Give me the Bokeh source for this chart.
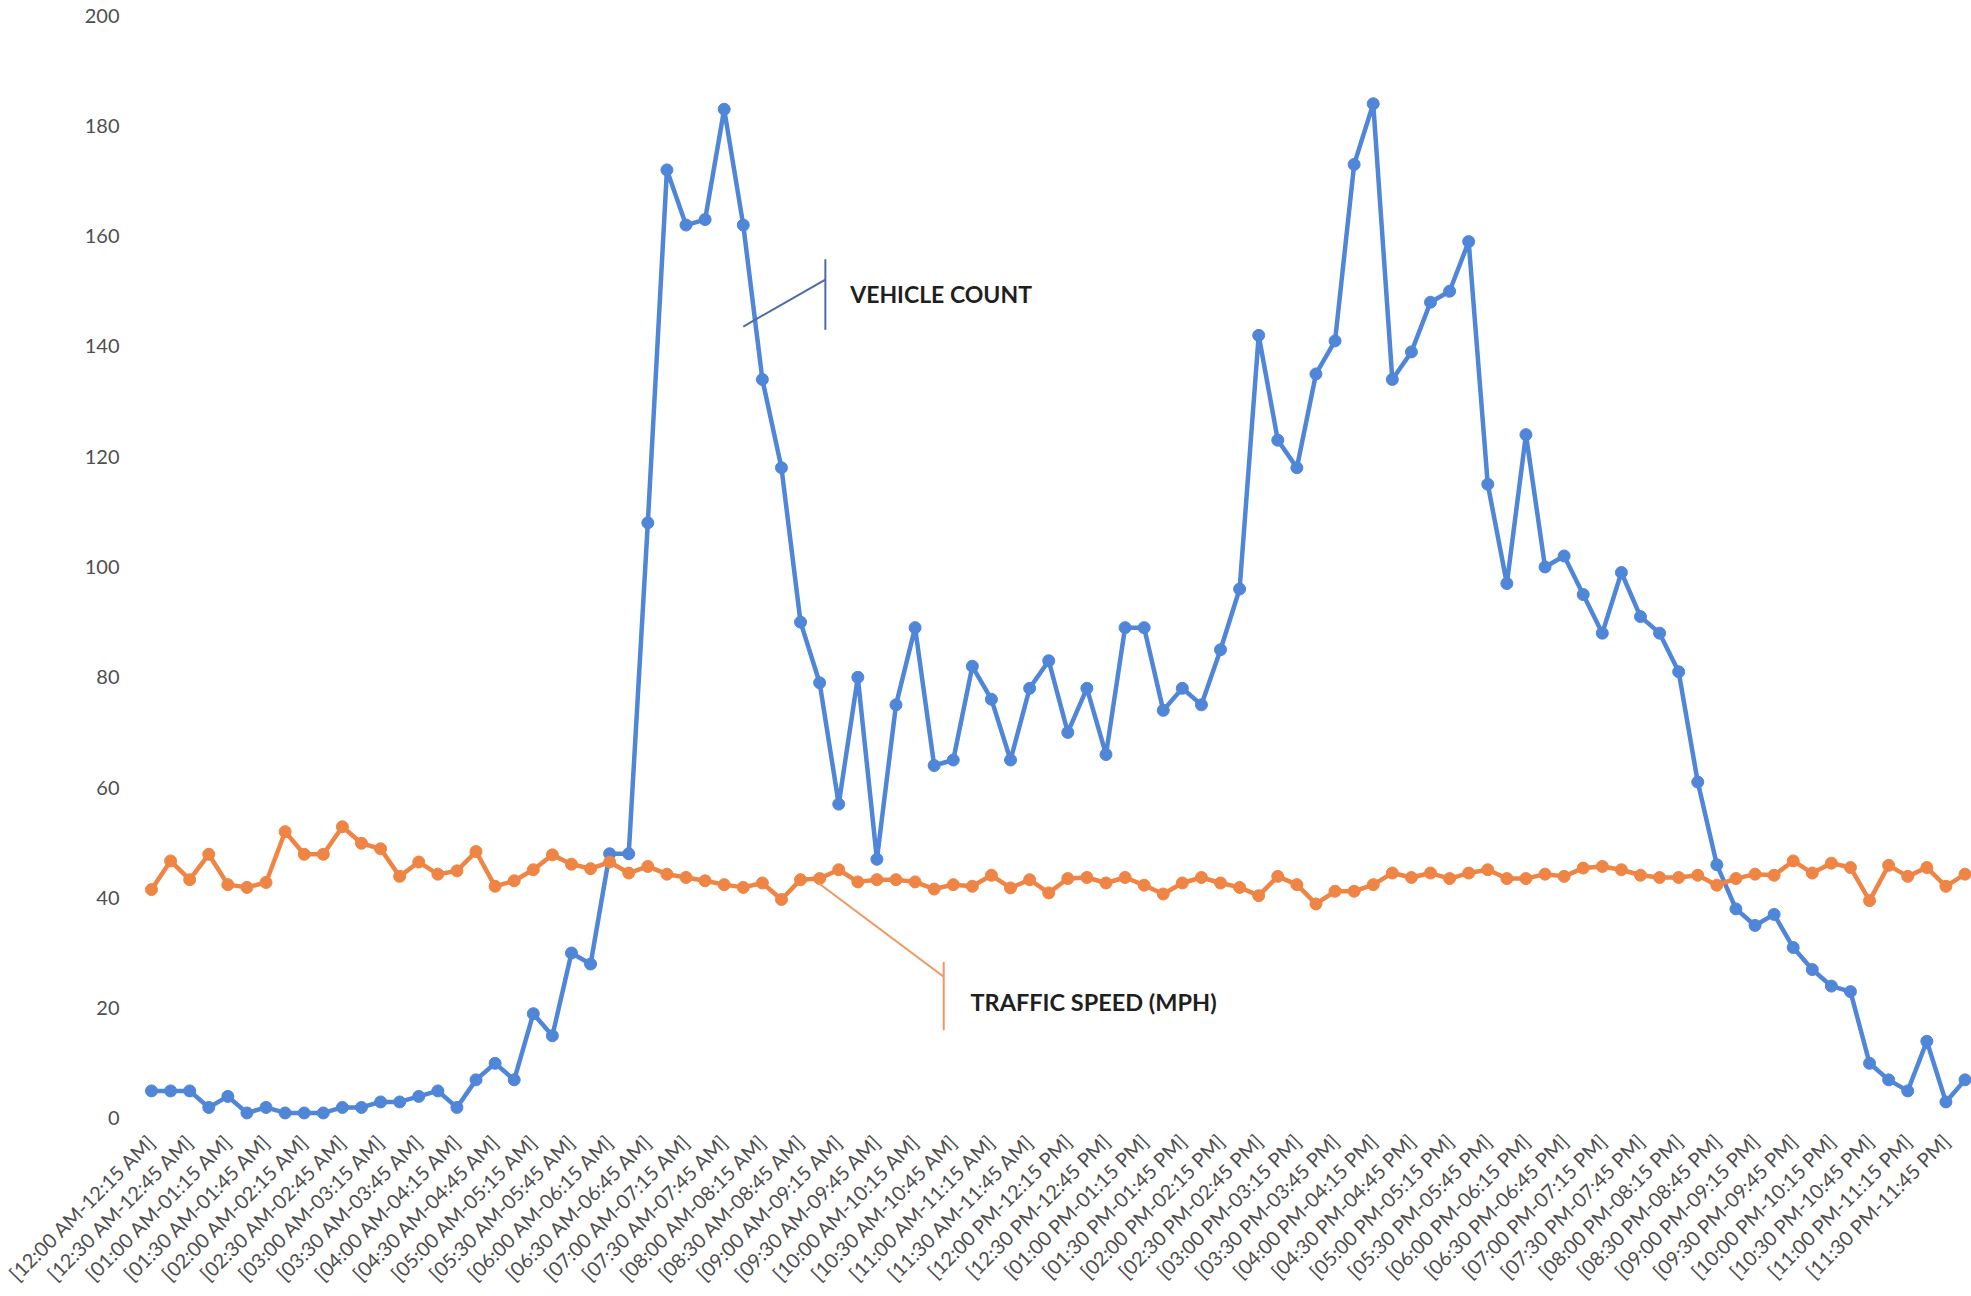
import math
from bokeh.plotting import figure
from bokeh.models import Range1d, FixedTicker, Label
from bokeh.embed import file_html
from bokeh.resources import INLINE

# ---- data ----
vehicle_count = [5, 5, 5, 2, 4, 1, 2, 1, 1, 1,
                 2, 2, 3, 3, 4, 5, 2, 7, 10, 7,
                 19, 15, 30, 28, 48, 48, 108, 172, 162, 163,
                 183, 162, 134, 118, 90, 79, 57, 80, 47, 75,
                 89, 64, 65, 82, 76, 65, 78, 83, 70, 78,
                 66, 89, 89, 74, 78, 75, 85, 96, 142, 123,
                 118, 135, 141, 173, 184, 134, 139, 148, 150, 159,
                 115, 97, 124, 100, 102, 95, 88, 99, 91, 88,
                 81, 61, 46, 38, 35, 37, 31, 27, 24, 23,
                 10, 7, 5, 14, 3, 7]

traffic_speed = [41.5, 46.7, 43.3, 47.9, 42.4, 41.9, 42.8, 52.0, 47.9, 47.9,
                 52.9, 49.9, 48.9, 43.9, 46.5, 44.3, 44.9, 48.4, 42.1, 43.1,
                 45.1, 47.8, 46.1, 45.3, 46.5, 44.5, 45.7, 44.3, 43.7, 43.1,
                 42.4, 41.9, 42.7, 39.7, 43.3, 43.5, 45.1, 42.9, 43.3, 43.3,
                 42.9, 41.6, 42.4, 42.1, 44.1, 41.8, 43.3, 40.9, 43.5, 43.7,
                 42.7, 43.7, 42.3, 40.7, 42.7, 43.7, 42.7, 41.9, 40.4, 43.9,
                 42.4, 38.9, 41.2, 41.2, 42.4, 44.5, 43.7, 44.5, 43.5, 44.5,
                 45.1, 43.5, 43.5, 44.3, 43.9, 45.4, 45.7, 45.1, 44.1, 43.7,
                 43.7, 44.1, 42.3, 43.5, 44.3, 44.1, 46.7, 44.5, 46.3, 45.5,
                 39.5, 45.9, 43.9, 45.5, 42.1, 44.3]

interval_index = list(range(len(vehicle_count)))

tick_labels = [
    "[12:00 AM-12:15 AM]", "[12:30 AM-12:45 AM]", "[01:00 AM-01:15 AM]", "[01:30 AM-01:45 AM]",
    "[02:00 AM-02:15 AM]", "[02:30 AM-02:45 AM]", "[03:00 AM-03:15 AM]", "[03:30 AM-03:45 AM]",
    "[04:00 AM-04:15 AM]", "[04:30 AM-04:45 AM]", "[05:00 AM-05:15 AM]", "[05:30 AM-05:45 AM]",
    "[06:00 AM-06:15 AM]", "[06:30 AM-06:45 AM]", "[07:00 AM-07:15 AM]", "[07:30 AM-07:45 AM]",
    "[08:00 AM-08:15 AM]", "[08:30 AM-08:45 AM]", "[09:00 AM-09:15 AM]", "[09:30 AM-09:45 AM]",
    "[10:00 AM-10:15 AM]", "[10:30 AM-10:45 AM]", "[11:00 AM-11:15 AM]", "[11:30 AM-11:45 AM]",
    "[12:00 PM-12:15 PM]", "[12:30 PM-12:45 PM]", "[01:00 PM-01:15 PM]", "[01:30 PM-01:45 PM]",
    "[02:00 PM-02:15 PM]", "[02:30 PM-02:45 PM]", "[03:00 PM-03:15 PM]", "[03:30 PM-03:45 PM]",
    "[04:00 PM-04:15 PM]", "[04:30 PM-04:45 PM]", "[05:00 PM-05:15 PM]", "[05:30 PM-05:45 PM]",
    "[06:00 PM-06:15 PM]", "[06:30 PM-06:45 PM]", "[07:00 PM-07:15 PM]", "[07:30 PM-07:45 PM]",
    "[08:00 PM-08:15 PM]", "[08:30 PM-08:45 PM]", "[09:00 PM-09:15 PM]", "[09:30 PM-09:45 PM]",
    "[10:00 PM-10:15 PM]", "[10:30 PM-10:45 PM]", "[11:00 PM-11:15 PM]", "[11:30 PM-11:45 PM]",
]
tick_positions = interval_index[::2]
y_ticks = [0, 20, 40, 60, 80, 100, 120, 140, 160, 180, 200]

# ---- styling ----
BLUE = "#4F86D8"
ORANGE = "#EE8545"
LABEL_GRAY = "#4f4f4f"
FONT = "Lato"

p = figure(width=1971, height=1296, output_backend="svg", toolbar_location=None,
           x_range=Range1d(-1.1, 95.34), y_range=Range1d(-2, 200),
           min_border_left=130, min_border_right=0, min_border_top=15,
           min_border_bottom=164)
p.outline_line_color = None
p.grid.visible = False
p.background_fill_color = "white"
p.border_fill_color = "white"

# axes
for ax in (p.xaxis, p.yaxis):
    ax.axis_line_color = None
    ax.major_tick_line_color = None
    ax.minor_tick_line_color = None
    ax.major_tick_out = 0
    ax.major_tick_in = 0
    ax.major_label_text_color = LABEL_GRAY
    ax.major_label_text_font = FONT
    ax.major_label_text_font_size = "20px"

p.xaxis.ticker = FixedTicker(ticks=tick_positions)
p.xaxis.major_label_overrides = {t: lab for t, lab in zip(tick_positions, tick_labels)}
p.xaxis.major_label_orientation = math.pi / 4
p.xaxis.major_label_standoff = 8
p.yaxis.ticker = FixedTicker(ticks=y_ticks)
p.yaxis.major_label_standoff = 11

# series
p.line(interval_index, vehicle_count, line_width=4.5, color=BLUE)
p.scatter(interval_index, vehicle_count, size=12, color=BLUE)
p.line(interval_index, traffic_speed, line_width=4.5, color=ORANGE)
p.scatter(interval_index, traffic_speed, size=12, color=ORANGE)

# callouts
VC_COLOR = "#5069A8"
p.line([31.0, 35.3], [143.6, 152.1], line_width=2, color=VC_COLOR)
p.line([35.3, 35.3], [143.0, 155.8], line_width=2, color=VC_COLOR)
p.add_layout(Label(x=36.6, y=149.5, text="VEHICLE COUNT", text_font=FONT,
                   text_font_style="bold", text_font_size="23px",
                   text_color="#1f1f1f", text_baseline="middle", text_align="left"))

TS_COLOR = "#F0965F"
p.line([34.9, 41.5], [42.8, 25.7], line_width=2, color=TS_COLOR)
p.line([41.5, 41.5], [16.0, 28.4], line_width=2, color=TS_COLOR)
p.add_layout(Label(x=42.9, y=21.2, text="TRAFFIC SPEED (MPH)", text_font=FONT,
                   text_font_style="bold", text_font_size="23.5px",
                   text_color="#1f1f1f", text_baseline="middle", text_align="left"))

open("out.html", "w").write(file_html(p, INLINE))
